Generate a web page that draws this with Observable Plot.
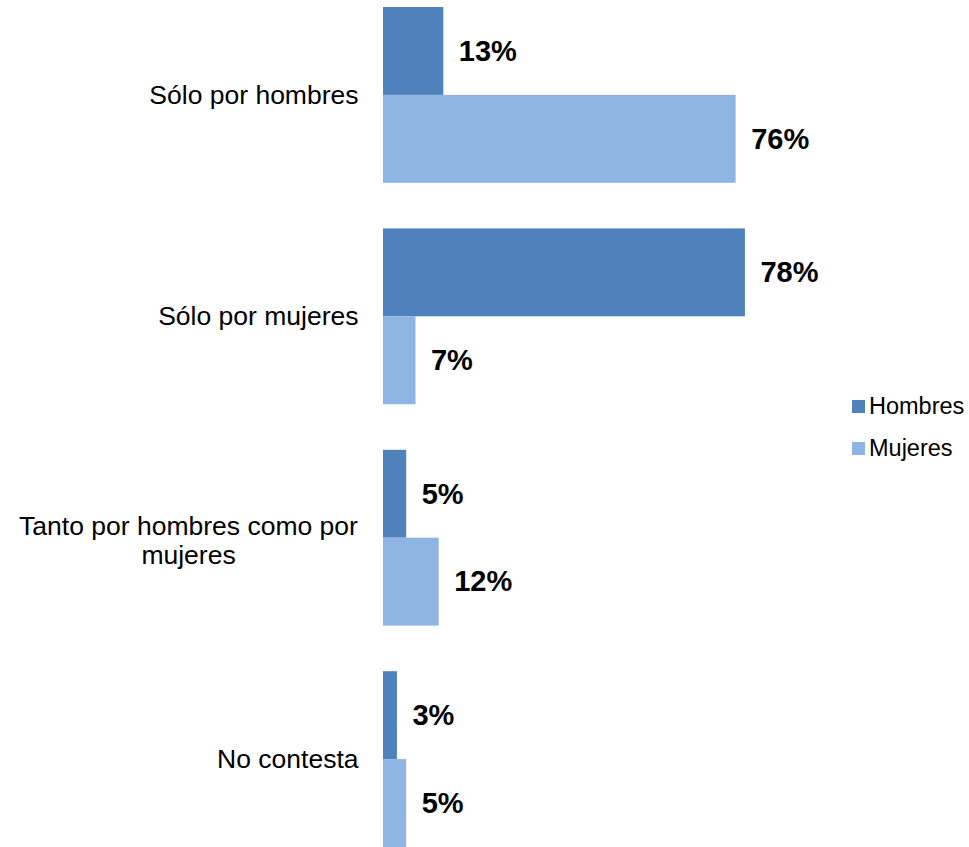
<!DOCTYPE html>
<html>
<head>
<meta charset="utf-8">
<script src="https://cdn.jsdelivr.net/npm/d3@7"></script>
<script src="https://cdn.jsdelivr.net/npm/@observablehq/plot@0.6"></script>
<style>
  body { margin: 0; background: #fff; font-family: "Liberation Sans", Arial, sans-serif; }
  #wrap { position: relative; width: 969px; height: 847px; }
  #legend { position: absolute; left: 852px; top: 385px; font-size: 23.5px; color: #000; }
  #legend div { display: flex; align-items: center; height: 42px; }
  #legend span.sw { display: inline-block; width: 13px; height: 13px; margin-right: 4px; }
</style>
</head>
<body>
<div id="wrap"></div>
<script>
const categories = ["Sólo por hombres", "Sólo por mujeres", "Tanto por hombres como por mujeres", "No contesta"];
const categoryLines = ["Sólo por hombres", "Sólo por mujeres", "Tanto por hombres como por\nmujeres", "No contesta"];
const series = ["Hombres", "Mujeres"];
const hombres = [13, 78, 5, 3];
const mujeres = [76, 7, 12, 5];
const colors = ["#4F81BD", "#8EB4E3"];

const data = [];
categories.forEach((c, i) => {
  data.push({category: c, series: "Hombres", value: hombres[i]});
  data.push({category: c, series: "Mujeres", value: mujeres[i]});
});
const labels = categories.map((c, i) => ({category: c, label: categoryLines[i], multi: categoryLines[i].includes("\n")}));

const chart = Plot.plot({
  width: 969,
  height: 847,
  marginLeft: 383,
  marginRight: 122,
  marginTop: 7,
  marginBottom: 0,
  style: {fontFamily: "Liberation Sans, Arial, sans-serif", background: "#fff"},
  x: {domain: [0, 100], axis: null},
  y: {domain: series, padding: 0, round: false, axis: null},
  fy: {domain: categories, paddingInner: 0.206, paddingOuter: 0, round: false, axis: null},
  color: {domain: series, range: colors},
  marks: [
    Plot.barX(data, {x: "value", y: "series", fy: "category", fill: "series"}),
    Plot.text(data, {x: "value", y: "series", fy: "category", text: d => d.value + "%", textAnchor: "start", dx: 15, fontWeight: "bold", fontSize: 29, fill: "#000"}),
    Plot.text(labels.filter(d => !d.multi), {fy: "category", text: "label", frameAnchor: "left", textAnchor: "end", dx: -25, fontSize: 26.5, fill: "#000"}),
    Plot.text(labels.filter(d => d.multi), {fy: "category", text: "label", frameAnchor: "left", textAnchor: "middle", dx: -195, dy: 2, fontSize: 26.5, lineHeight: 1.1, fill: "#000"})
  ]
});
const wrap = document.getElementById("wrap");
wrap.appendChild(chart);
const legend = document.createElement("div");
legend.id = "legend";
series.forEach((s, i) => {
  const row = document.createElement("div");
  const sw = document.createElement("span");
  sw.className = "sw";
  sw.style.background = colors[i];
  row.appendChild(sw);
  row.appendChild(document.createTextNode(s));
  legend.appendChild(row);
});
wrap.appendChild(legend);
</script>
</body>
</html>
